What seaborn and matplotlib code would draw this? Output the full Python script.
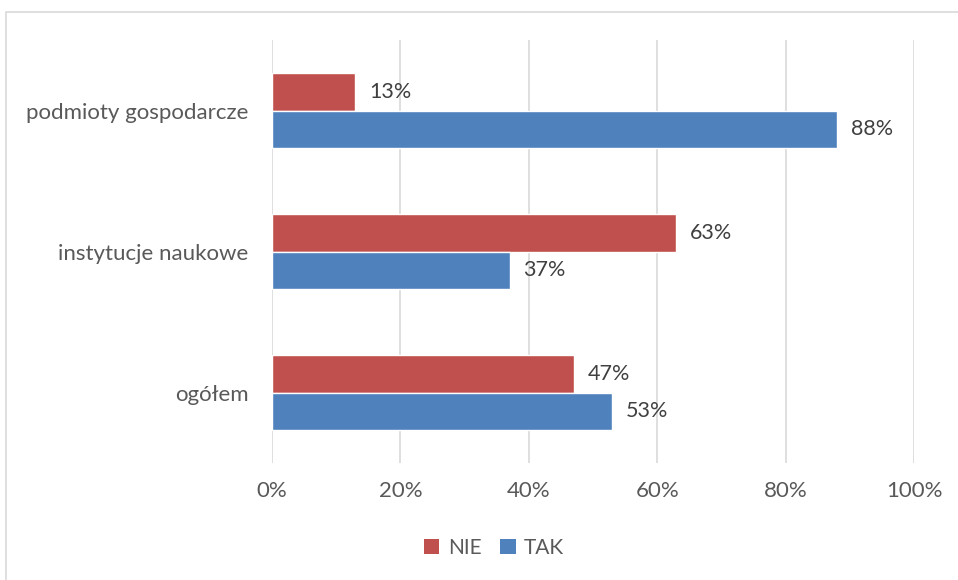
import matplotlib
matplotlib.use("Agg")
import matplotlib.pyplot as plt
from matplotlib.patches import Rectangle, Patch
import seaborn as sns
import pandas as pd

categories = ["podmioty gospodarcze", "instytucje naukowe", "ogółem"]
series = ["NIE", "TAK"]
nie_values = [13, 63, 47]
tak_values = [88, 37, 53]
x_ticks = [0, 20, 40, 60, 80, 100]
x_tick_labels = ["0%", "20%", "40%", "60%", "80%", "100%"]

colors = {"NIE": "#C0504D", "TAK": "#4F81BD"}
text_color = "#595959"
grid_color = "#D9D9D9"

df = pd.DataFrame({
    "kategoria": categories * 2,
    "seria": ["NIE"] * len(categories) + ["TAK"] * len(categories),
    "wartosc": nie_values + tak_values,
})

sns.set_theme(style="white")
plt.rcParams["font.family"] = ["Lato", "DejaVu Sans"]

fig = plt.figure(figsize=(9.58, 5.8), dpi=100)
ax = fig.add_axes([272 / 958, 1 - 463 / 580, (914 - 272) / 958, (463 - 40) / 580])

sns.barplot(data=df, y="kategoria", x="wartosc", hue="seria", order=categories,
            hue_order=series, palette=colors, orient="h", width=0.525,
            saturation=1, ax=ax, legend=False)

for container in ax.containers:
    ax.bar_label(container, labels=[f"{v:.0f}%" for v in container.datavalues],
                 padding=10, fontsize=15.5, color="#404040")

ax.set_xlim(0, 100)
ax.set_ylim(2.5, -0.5)
ax.set_xticks(x_ticks)
ax.set_xticklabels(x_tick_labels)
ax.set_xlabel("")
ax.set_ylabel("")
ax.tick_params(axis="x", colors=text_color, labelsize=16, length=0, pad=13)
ax.tick_params(axis="y", colors=text_color, labelsize=16, length=0, pad=17)
ax.grid(axis="x", color=grid_color, linewidth=1.2)
ax.grid(axis="y", visible=False)
ax.set_axisbelow(True)
for s in ax.spines.values():
    s.set_visible(False)

handles = [Patch(facecolor=colors[s], edgecolor="none") for s in series]
fig.legend(handles, series, loc="center", bbox_to_anchor=(494 / 958, 1 - 548 / 580),
           ncol=2, frameon=False, fontsize=15, handlelength=0.75, handleheight=0.75,
           handletextpad=0.4, columnspacing=0.9, labelcolor=text_color)

fig.add_artist(Rectangle((5.5 / 958, -0.2), 2, 1.2 - 11.5 / 580,
                         transform=fig.transFigure, fill=False,
                         edgecolor=grid_color, linewidth=1.2))

fig.savefig("out.png", dpi=100, facecolor="white")
